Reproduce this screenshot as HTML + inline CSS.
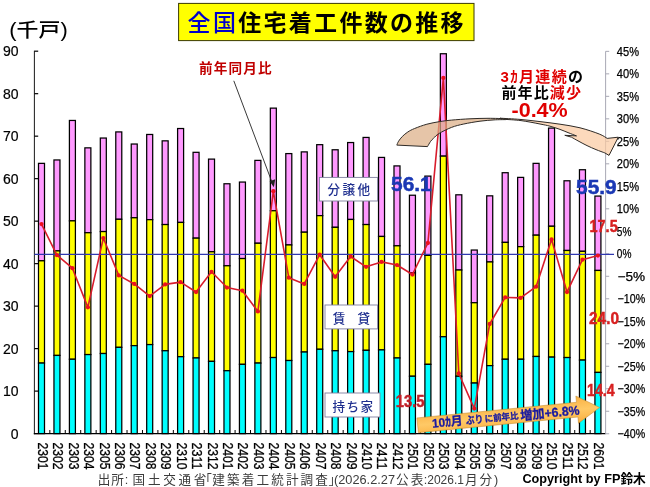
<!DOCTYPE html>
<html lang="ja"><head><meta charset="utf-8"><title>全国住宅着工件数の推移</title>
<style>html,body{margin:0;padding:0;background:#fff}svg{display:block}text{font-family:"Liberation Sans","Noto Sans CJK JP",sans-serif}</style></head><body>
<svg width="650" height="487" viewBox="0 0 650 487">
<defs><linearGradient id="og" x1="0" y1="0" x2="0" y2="1"><stop offset="0" stop-color="#f9b043"/><stop offset="0.5" stop-color="#ffc966"/><stop offset="1" stop-color="#f9ae3e"/></linearGradient></defs>
<rect width="650" height="487" fill="#fff"/>
<g stroke="#000" stroke-width="1.25" shape-rendering="auto">
<rect x="38.50" y="163.36" width="6.00" height="97.43" fill="#ff99ff"/>
<rect x="38.50" y="260.79" width="6.00" height="102.27" fill="#ffff00"/>
<rect x="38.50" y="363.07" width="6.00" height="70.53" fill="#00ffff"/>
<rect x="53.96" y="159.96" width="6.00" height="90.93" fill="#ff99ff"/>
<rect x="53.96" y="250.89" width="6.00" height="104.53" fill="#ffff00"/>
<rect x="53.96" y="355.42" width="6.00" height="78.18" fill="#00ffff"/>
<rect x="69.41" y="120.45" width="6.00" height="100.40" fill="#ff99ff"/>
<rect x="69.41" y="220.85" width="6.00" height="138.39" fill="#ffff00"/>
<rect x="69.41" y="359.24" width="6.00" height="74.36" fill="#00ffff"/>
<rect x="84.87" y="147.85" width="6.00" height="84.85" fill="#ff99ff"/>
<rect x="84.87" y="232.71" width="6.00" height="121.86" fill="#ffff00"/>
<rect x="84.87" y="354.57" width="6.00" height="79.03" fill="#00ffff"/>
<rect x="100.32" y="138.04" width="6.00" height="93.52" fill="#ff99ff"/>
<rect x="100.32" y="231.56" width="6.00" height="121.95" fill="#ffff00"/>
<rect x="100.32" y="353.51" width="6.00" height="80.09" fill="#00ffff"/>
<rect x="115.78" y="131.92" width="6.00" height="87.36" fill="#ff99ff"/>
<rect x="115.78" y="219.28" width="6.00" height="128.06" fill="#ffff00"/>
<rect x="115.78" y="347.35" width="6.00" height="86.25" fill="#00ffff"/>
<rect x="131.24" y="144.03" width="6.00" height="73.72" fill="#ff99ff"/>
<rect x="131.24" y="217.75" width="6.00" height="127.89" fill="#ffff00"/>
<rect x="131.24" y="345.65" width="6.00" height="87.95" fill="#00ffff"/>
<rect x="146.69" y="134.47" width="6.00" height="85.19" fill="#ff99ff"/>
<rect x="146.69" y="219.66" width="6.00" height="124.92" fill="#ffff00"/>
<rect x="146.69" y="344.58" width="6.00" height="89.02" fill="#00ffff"/>
<rect x="162.15" y="140.84" width="6.00" height="83.71" fill="#ff99ff"/>
<rect x="162.15" y="224.55" width="6.00" height="126.20" fill="#ffff00"/>
<rect x="162.15" y="350.74" width="6.00" height="82.86" fill="#00ffff"/>
<rect x="177.60" y="128.52" width="6.00" height="93.90" fill="#ff99ff"/>
<rect x="177.60" y="222.42" width="6.00" height="134.27" fill="#ffff00"/>
<rect x="177.60" y="356.69" width="6.00" height="76.91" fill="#00ffff"/>
<rect x="193.06" y="152.32" width="6.00" height="85.83" fill="#ff99ff"/>
<rect x="193.06" y="238.15" width="6.00" height="119.82" fill="#ffff00"/>
<rect x="193.06" y="357.97" width="6.00" height="75.63" fill="#00ffff"/>
<rect x="208.52" y="159.11" width="6.00" height="92.63" fill="#ff99ff"/>
<rect x="208.52" y="251.74" width="6.00" height="109.62" fill="#ffff00"/>
<rect x="208.52" y="361.37" width="6.00" height="72.23" fill="#00ffff"/>
<rect x="223.97" y="183.76" width="6.00" height="82.01" fill="#ff99ff"/>
<rect x="223.97" y="265.76" width="6.00" height="104.95" fill="#ffff00"/>
<rect x="223.97" y="370.71" width="6.00" height="62.89" fill="#00ffff"/>
<rect x="239.43" y="182.06" width="6.00" height="76.48" fill="#ff99ff"/>
<rect x="239.43" y="258.54" width="6.00" height="105.80" fill="#ffff00"/>
<rect x="239.43" y="364.34" width="6.00" height="69.26" fill="#00ffff"/>
<rect x="254.88" y="160.39" width="6.00" height="82.86" fill="#ff99ff"/>
<rect x="254.88" y="243.24" width="6.00" height="119.82" fill="#ffff00"/>
<rect x="254.88" y="363.07" width="6.00" height="70.53" fill="#00ffff"/>
<rect x="270.34" y="108.13" width="6.00" height="102.61" fill="#ff99ff"/>
<rect x="270.34" y="210.74" width="6.00" height="146.80" fill="#ffff00"/>
<rect x="270.34" y="357.54" width="6.00" height="76.06" fill="#00ffff"/>
<rect x="285.80" y="153.59" width="6.00" height="91.35" fill="#ff99ff"/>
<rect x="285.80" y="244.94" width="6.00" height="115.57" fill="#ffff00"/>
<rect x="285.80" y="360.52" width="6.00" height="73.08" fill="#00ffff"/>
<rect x="301.25" y="151.89" width="6.00" height="80.31" fill="#ff99ff"/>
<rect x="301.25" y="232.20" width="6.00" height="119.82" fill="#ffff00"/>
<rect x="301.25" y="352.02" width="6.00" height="81.58" fill="#00ffff"/>
<rect x="316.71" y="144.67" width="6.00" height="70.96" fill="#ff99ff"/>
<rect x="316.71" y="215.63" width="6.00" height="133.63" fill="#ffff00"/>
<rect x="316.71" y="349.26" width="6.00" height="84.34" fill="#00ffff"/>
<rect x="332.16" y="149.77" width="6.00" height="77.54" fill="#ff99ff"/>
<rect x="332.16" y="227.31" width="6.00" height="123.43" fill="#ffff00"/>
<rect x="332.16" y="350.74" width="6.00" height="82.86" fill="#00ffff"/>
<rect x="347.62" y="142.54" width="6.00" height="76.91" fill="#ff99ff"/>
<rect x="347.62" y="219.45" width="6.00" height="132.14" fill="#ffff00"/>
<rect x="347.62" y="351.59" width="6.00" height="82.01" fill="#00ffff"/>
<rect x="363.08" y="137.44" width="6.00" height="87.10" fill="#ff99ff"/>
<rect x="363.08" y="224.55" width="6.00" height="125.77" fill="#ffff00"/>
<rect x="363.08" y="350.32" width="6.00" height="83.28" fill="#00ffff"/>
<rect x="378.53" y="157.42" width="6.00" height="79.03" fill="#ff99ff"/>
<rect x="378.53" y="236.45" width="6.00" height="113.45" fill="#ffff00"/>
<rect x="378.53" y="349.89" width="6.00" height="83.71" fill="#00ffff"/>
<rect x="393.99" y="165.91" width="6.00" height="79.88" fill="#ff99ff"/>
<rect x="393.99" y="245.79" width="6.00" height="112.17" fill="#ffff00"/>
<rect x="393.99" y="357.97" width="6.00" height="75.63" fill="#00ffff"/>
<rect x="409.44" y="195.23" width="6.00" height="77.76" fill="#ff99ff"/>
<rect x="409.44" y="272.99" width="6.00" height="103.25" fill="#ffff00"/>
<rect x="409.44" y="376.24" width="6.00" height="57.36" fill="#00ffff"/>
<rect x="424.90" y="176.11" width="6.00" height="79.24" fill="#ff99ff"/>
<rect x="424.90" y="255.35" width="6.00" height="108.99" fill="#ffff00"/>
<rect x="424.90" y="364.34" width="6.00" height="69.26" fill="#00ffff"/>
<rect x="440.36" y="53.74" width="6.00" height="102.40" fill="#ff99ff"/>
<rect x="440.36" y="156.14" width="6.00" height="180.58" fill="#ffff00"/>
<rect x="440.36" y="336.72" width="6.00" height="96.88" fill="#00ffff"/>
<rect x="455.81" y="194.81" width="6.00" height="75.21" fill="#ff99ff"/>
<rect x="455.81" y="270.01" width="6.00" height="106.23" fill="#ffff00"/>
<rect x="455.81" y="376.24" width="6.00" height="57.36" fill="#00ffff"/>
<rect x="471.27" y="250.04" width="6.00" height="52.69" fill="#ff99ff"/>
<rect x="471.27" y="302.73" width="6.00" height="80.31" fill="#ffff00"/>
<rect x="471.27" y="383.04" width="6.00" height="50.56" fill="#00ffff"/>
<rect x="486.72" y="195.83" width="6.00" height="66.11" fill="#ff99ff"/>
<rect x="486.72" y="261.94" width="6.00" height="103.68" fill="#ffff00"/>
<rect x="486.72" y="365.62" width="6.00" height="67.98" fill="#00ffff"/>
<rect x="502.18" y="172.71" width="6.00" height="69.68" fill="#ff99ff"/>
<rect x="502.18" y="242.40" width="6.00" height="116.85" fill="#ffff00"/>
<rect x="502.18" y="359.24" width="6.00" height="74.36" fill="#00ffff"/>
<rect x="517.64" y="177.39" width="6.00" height="69.26" fill="#ff99ff"/>
<rect x="517.64" y="246.64" width="6.00" height="112.60" fill="#ffff00"/>
<rect x="517.64" y="359.24" width="6.00" height="74.36" fill="#00ffff"/>
<rect x="533.09" y="163.36" width="6.00" height="71.81" fill="#ff99ff"/>
<rect x="533.09" y="235.17" width="6.00" height="121.31" fill="#ffff00"/>
<rect x="533.09" y="356.48" width="6.00" height="77.12" fill="#00ffff"/>
<rect x="548.55" y="128.10" width="6.00" height="98.15" fill="#ff99ff"/>
<rect x="548.55" y="226.25" width="6.00" height="130.87" fill="#ffff00"/>
<rect x="548.55" y="357.12" width="6.00" height="76.48" fill="#00ffff"/>
<rect x="564.00" y="180.78" width="6.00" height="69.68" fill="#ff99ff"/>
<rect x="564.00" y="250.47" width="6.00" height="107.07" fill="#ffff00"/>
<rect x="564.00" y="357.54" width="6.00" height="76.06" fill="#00ffff"/>
<rect x="579.46" y="169.74" width="6.00" height="81.58" fill="#ff99ff"/>
<rect x="579.46" y="251.32" width="6.00" height="108.77" fill="#ffff00"/>
<rect x="579.46" y="360.09" width="6.00" height="73.51" fill="#00ffff"/>
<rect x="594.92" y="196.08" width="6.00" height="74.36" fill="#ff99ff"/>
<rect x="594.92" y="270.44" width="6.00" height="101.98" fill="#ffff00"/>
<rect x="594.92" y="372.41" width="6.00" height="61.19" fill="#00ffff"/>
</g>
<g stroke="#000" stroke-width="1.2" fill="none">
<line x1="34.40" y1="50.7" x2="34.40" y2="434.20" stroke-width="1.05" stroke="#222"/>
<line x1="33.80" y1="433.60" x2="605.61" y2="433.60"/>
<line x1="34.40" y1="433.60" x2="38.20" y2="433.60"/>
<line x1="34.40" y1="391.11" x2="38.20" y2="391.11"/>
<line x1="34.40" y1="348.62" x2="38.20" y2="348.62"/>
<line x1="34.40" y1="306.13" x2="38.20" y2="306.13"/>
<line x1="34.40" y1="263.64" x2="38.20" y2="263.64"/>
<line x1="34.40" y1="221.15" x2="38.20" y2="221.15"/>
<line x1="34.40" y1="178.66" x2="38.20" y2="178.66"/>
<line x1="34.40" y1="136.17" x2="38.20" y2="136.17"/>
<line x1="34.40" y1="93.68" x2="38.20" y2="93.68"/>
<line x1="34.40" y1="51.19" x2="38.20" y2="51.19"/>
<line x1="49.84" y1="433.60" x2="49.84" y2="430.00" stroke-width="1"/>
<line x1="65.28" y1="433.60" x2="65.28" y2="430.00" stroke-width="1"/>
<line x1="80.71" y1="433.60" x2="80.71" y2="430.00" stroke-width="1"/>
<line x1="96.15" y1="433.60" x2="96.15" y2="430.00" stroke-width="1"/>
<line x1="111.59" y1="433.60" x2="111.59" y2="430.00" stroke-width="1"/>
<line x1="127.03" y1="433.60" x2="127.03" y2="430.00" stroke-width="1"/>
<line x1="142.47" y1="433.60" x2="142.47" y2="430.00" stroke-width="1"/>
<line x1="157.90" y1="433.60" x2="157.90" y2="430.00" stroke-width="1"/>
<line x1="173.34" y1="433.60" x2="173.34" y2="430.00" stroke-width="1"/>
<line x1="188.78" y1="433.60" x2="188.78" y2="430.00" stroke-width="1"/>
<line x1="204.22" y1="433.60" x2="204.22" y2="430.00" stroke-width="1"/>
<line x1="219.66" y1="433.60" x2="219.66" y2="430.00" stroke-width="1"/>
<line x1="235.09" y1="433.60" x2="235.09" y2="430.00" stroke-width="1"/>
<line x1="250.53" y1="433.60" x2="250.53" y2="430.00" stroke-width="1"/>
<line x1="265.97" y1="433.60" x2="265.97" y2="430.00" stroke-width="1"/>
<line x1="281.41" y1="433.60" x2="281.41" y2="430.00" stroke-width="1"/>
<line x1="296.85" y1="433.60" x2="296.85" y2="430.00" stroke-width="1"/>
<line x1="312.28" y1="433.60" x2="312.28" y2="430.00" stroke-width="1"/>
<line x1="327.72" y1="433.60" x2="327.72" y2="430.00" stroke-width="1"/>
<line x1="343.16" y1="433.60" x2="343.16" y2="430.00" stroke-width="1"/>
<line x1="358.60" y1="433.60" x2="358.60" y2="430.00" stroke-width="1"/>
<line x1="374.04" y1="433.60" x2="374.04" y2="430.00" stroke-width="1"/>
<line x1="389.47" y1="433.60" x2="389.47" y2="430.00" stroke-width="1"/>
<line x1="404.91" y1="433.60" x2="404.91" y2="430.00" stroke-width="1"/>
<line x1="420.35" y1="433.60" x2="420.35" y2="430.00" stroke-width="1"/>
<line x1="435.79" y1="433.60" x2="435.79" y2="430.00" stroke-width="1"/>
<line x1="451.23" y1="433.60" x2="451.23" y2="430.00" stroke-width="1"/>
<line x1="466.66" y1="433.60" x2="466.66" y2="430.00" stroke-width="1"/>
<line x1="482.10" y1="433.60" x2="482.10" y2="430.00" stroke-width="1"/>
<line x1="497.54" y1="433.60" x2="497.54" y2="430.00" stroke-width="1"/>
<line x1="512.98" y1="433.60" x2="512.98" y2="430.00" stroke-width="1"/>
<line x1="528.42" y1="433.60" x2="528.42" y2="430.00" stroke-width="1"/>
<line x1="543.85" y1="433.60" x2="543.85" y2="430.00" stroke-width="1"/>
<line x1="559.29" y1="433.60" x2="559.29" y2="430.00" stroke-width="1"/>
<line x1="574.73" y1="433.60" x2="574.73" y2="430.00" stroke-width="1"/>
<line x1="590.17" y1="433.60" x2="590.17" y2="430.00" stroke-width="1"/>
</g>
<g stroke="#a8a8b4" stroke-width="1" fill="none">
<line x1="605.61" y1="51.35" x2="605.61" y2="433.75"/>
<line x1="605.61" y1="51.35" x2="609.21" y2="51.35"/>
<line x1="605.61" y1="73.85" x2="609.21" y2="73.85"/>
<line x1="605.61" y1="96.34" x2="609.21" y2="96.34"/>
<line x1="605.61" y1="118.84" x2="609.21" y2="118.84"/>
<line x1="605.61" y1="141.33" x2="609.21" y2="141.33"/>
<line x1="605.61" y1="163.82" x2="609.21" y2="163.82"/>
<line x1="605.61" y1="186.32" x2="609.21" y2="186.32"/>
<line x1="605.61" y1="208.81" x2="609.21" y2="208.81"/>
<line x1="605.61" y1="231.31" x2="609.21" y2="231.31"/>
<line x1="605.61" y1="253.80" x2="609.21" y2="253.80"/>
<line x1="605.61" y1="276.29" x2="609.21" y2="276.29"/>
<line x1="605.61" y1="298.79" x2="609.21" y2="298.79"/>
<line x1="605.61" y1="321.28" x2="609.21" y2="321.28"/>
<line x1="605.61" y1="343.78" x2="609.21" y2="343.78"/>
<line x1="605.61" y1="366.27" x2="609.21" y2="366.27"/>
<line x1="605.61" y1="388.76" x2="609.21" y2="388.76"/>
<line x1="605.61" y1="411.26" x2="609.21" y2="411.26"/>
<line x1="605.61" y1="433.75" x2="609.21" y2="433.75"/>
</g>
<g font-size="14" fill="#000" text-anchor="end" stroke="#000" stroke-width="0.2">
<text x="18.6" y="438.60">0</text>
<text x="18.6" y="396.11">10</text>
<text x="18.6" y="353.62">20</text>
<text x="18.6" y="311.13">30</text>
<text x="18.6" y="268.64">40</text>
<text x="18.6" y="226.15">50</text>
<text x="18.6" y="183.66">60</text>
<text x="18.6" y="141.17">70</text>
<text x="18.6" y="98.68">80</text>
<text x="18.6" y="56.19">90</text>
</g>
<g font-size="12.3" fill="#000" stroke="#000" stroke-width="0.25">
<text x="616.8" y="55.65" textLength="22.2" lengthAdjust="spacingAndGlyphs">45%</text>
<text x="616.8" y="78.15" textLength="22.2" lengthAdjust="spacingAndGlyphs">40%</text>
<text x="616.8" y="100.64" textLength="22.2" lengthAdjust="spacingAndGlyphs">35%</text>
<text x="616.8" y="123.14" textLength="22.2" lengthAdjust="spacingAndGlyphs">30%</text>
<text x="616.8" y="145.63" textLength="22.2" lengthAdjust="spacingAndGlyphs">25%</text>
<text x="616.8" y="168.12" textLength="22.2" lengthAdjust="spacingAndGlyphs">20%</text>
<text x="616.8" y="190.62" textLength="22.2" lengthAdjust="spacingAndGlyphs">15%</text>
<text x="616.8" y="213.11" textLength="22.2" lengthAdjust="spacingAndGlyphs">10%</text>
<text x="616.8" y="235.61" textLength="14.6" lengthAdjust="spacingAndGlyphs">5%</text>
<text x="616.8" y="258.10" textLength="14.6" lengthAdjust="spacingAndGlyphs">0%</text>
<text x="617.6" y="280.59" textLength="27.6" lengthAdjust="spacingAndGlyphs">−5%</text>
<text x="617.6" y="303.09" textLength="27.6" lengthAdjust="spacingAndGlyphs">−10%</text>
<text x="617.6" y="325.58" textLength="27.6" lengthAdjust="spacingAndGlyphs">−15%</text>
<text x="617.6" y="348.08" textLength="27.6" lengthAdjust="spacingAndGlyphs">−20%</text>
<text x="617.6" y="370.57" textLength="27.6" lengthAdjust="spacingAndGlyphs">−25%</text>
<text x="617.6" y="393.06" textLength="27.6" lengthAdjust="spacingAndGlyphs">−30%</text>
<text x="617.6" y="415.56" textLength="27.6" lengthAdjust="spacingAndGlyphs">−35%</text>
<text x="617.6" y="438.05" textLength="27.6" lengthAdjust="spacingAndGlyphs">−40%</text>
</g>
<g font-size="14.6" fill="#000" stroke="#000" stroke-width="0.3">
<text transform="translate(43.02,442.6) rotate(90)" x="0" y="5.25" textLength="27" lengthAdjust="spacingAndGlyphs">2301</text>
<text transform="translate(58.46,442.6) rotate(90)" x="0" y="5.25" textLength="27" lengthAdjust="spacingAndGlyphs">2302</text>
<text transform="translate(73.90,442.6) rotate(90)" x="0" y="5.25" textLength="27" lengthAdjust="spacingAndGlyphs">2303</text>
<text transform="translate(89.33,442.6) rotate(90)" x="0" y="5.25" textLength="27" lengthAdjust="spacingAndGlyphs">2304</text>
<text transform="translate(104.77,442.6) rotate(90)" x="0" y="5.25" textLength="27" lengthAdjust="spacingAndGlyphs">2305</text>
<text transform="translate(120.21,442.6) rotate(90)" x="0" y="5.25" textLength="27" lengthAdjust="spacingAndGlyphs">2306</text>
<text transform="translate(135.65,442.6) rotate(90)" x="0" y="5.25" textLength="27" lengthAdjust="spacingAndGlyphs">2307</text>
<text transform="translate(151.09,442.6) rotate(90)" x="0" y="5.25" textLength="27" lengthAdjust="spacingAndGlyphs">2308</text>
<text transform="translate(166.52,442.6) rotate(90)" x="0" y="5.25" textLength="27" lengthAdjust="spacingAndGlyphs">2309</text>
<text transform="translate(181.96,442.6) rotate(90)" x="0" y="5.25" textLength="27" lengthAdjust="spacingAndGlyphs">2310</text>
<text transform="translate(197.40,442.6) rotate(90)" x="0" y="5.25" textLength="27" lengthAdjust="spacingAndGlyphs">2311</text>
<text transform="translate(212.84,442.6) rotate(90)" x="0" y="5.25" textLength="27" lengthAdjust="spacingAndGlyphs">2312</text>
<text transform="translate(228.28,442.6) rotate(90)" x="0" y="5.25" textLength="27" lengthAdjust="spacingAndGlyphs">2401</text>
<text transform="translate(243.71,442.6) rotate(90)" x="0" y="5.25" textLength="27" lengthAdjust="spacingAndGlyphs">2402</text>
<text transform="translate(259.15,442.6) rotate(90)" x="0" y="5.25" textLength="27" lengthAdjust="spacingAndGlyphs">2403</text>
<text transform="translate(274.59,442.6) rotate(90)" x="0" y="5.25" textLength="27" lengthAdjust="spacingAndGlyphs">2404</text>
<text transform="translate(290.03,442.6) rotate(90)" x="0" y="5.25" textLength="27" lengthAdjust="spacingAndGlyphs">2405</text>
<text transform="translate(305.46,442.6) rotate(90)" x="0" y="5.25" textLength="27" lengthAdjust="spacingAndGlyphs">2406</text>
<text transform="translate(320.90,442.6) rotate(90)" x="0" y="5.25" textLength="27" lengthAdjust="spacingAndGlyphs">2407</text>
<text transform="translate(336.34,442.6) rotate(90)" x="0" y="5.25" textLength="27" lengthAdjust="spacingAndGlyphs">2408</text>
<text transform="translate(351.78,442.6) rotate(90)" x="0" y="5.25" textLength="27" lengthAdjust="spacingAndGlyphs">2409</text>
<text transform="translate(367.22,442.6) rotate(90)" x="0" y="5.25" textLength="27" lengthAdjust="spacingAndGlyphs">2410</text>
<text transform="translate(382.65,442.6) rotate(90)" x="0" y="5.25" textLength="27" lengthAdjust="spacingAndGlyphs">2411</text>
<text transform="translate(398.09,442.6) rotate(90)" x="0" y="5.25" textLength="27" lengthAdjust="spacingAndGlyphs">2412</text>
<text transform="translate(413.53,442.6) rotate(90)" x="0" y="5.25" textLength="27" lengthAdjust="spacingAndGlyphs">2501</text>
<text transform="translate(428.97,442.6) rotate(90)" x="0" y="5.25" textLength="27" lengthAdjust="spacingAndGlyphs">2502</text>
<text transform="translate(444.41,442.6) rotate(90)" x="0" y="5.25" textLength="27" lengthAdjust="spacingAndGlyphs">2503</text>
<text transform="translate(459.84,442.6) rotate(90)" x="0" y="5.25" textLength="27" lengthAdjust="spacingAndGlyphs">2504</text>
<text transform="translate(475.28,442.6) rotate(90)" x="0" y="5.25" textLength="27" lengthAdjust="spacingAndGlyphs">2505</text>
<text transform="translate(490.72,442.6) rotate(90)" x="0" y="5.25" textLength="27" lengthAdjust="spacingAndGlyphs">2506</text>
<text transform="translate(506.16,442.6) rotate(90)" x="0" y="5.25" textLength="27" lengthAdjust="spacingAndGlyphs">2507</text>
<text transform="translate(521.60,442.6) rotate(90)" x="0" y="5.25" textLength="27" lengthAdjust="spacingAndGlyphs">2508</text>
<text transform="translate(537.03,442.6) rotate(90)" x="0" y="5.25" textLength="27" lengthAdjust="spacingAndGlyphs">2509</text>
<text transform="translate(552.47,442.6) rotate(90)" x="0" y="5.25" textLength="27" lengthAdjust="spacingAndGlyphs">2510</text>
<text transform="translate(567.91,442.6) rotate(90)" x="0" y="5.25" textLength="27" lengthAdjust="spacingAndGlyphs">2511</text>
<text transform="translate(583.35,442.6) rotate(90)" x="0" y="5.25" textLength="27" lengthAdjust="spacingAndGlyphs">2512</text>
<text transform="translate(598.79,442.6) rotate(90)" x="0" y="5.25" textLength="27" lengthAdjust="spacingAndGlyphs">2601</text>
</g>
<line x1="34.40" y1="254.4" x2="614" y2="254.4" stroke="#3038b0" stroke-width="1.35"/>
<polyline points="41.50,224.11 56.96,255.15 72.41,268.20 87.87,307.34 103.32,238.05 118.78,275.39 134.24,283.94 149.69,296.09 165.15,284.39 180.60,282.14 196.06,292.04 211.52,271.80 226.97,287.54 242.43,290.69 257.88,311.38 273.34,191.27 288.80,277.64 304.25,283.94 319.71,254.70 335.16,276.74 350.62,256.50 366.08,266.85 381.53,261.90 396.99,265.05 412.44,274.49 427.90,243.00 443.36,77.90 458.81,373.47 474.27,408.56 489.72,323.98 505.18,297.44 520.64,297.89 536.09,286.64 551.55,239.40 567.00,292.04 582.46,259.65 597.92,255.60" fill="none" stroke="#d81c2c" stroke-width="1.6" stroke-linejoin="round"/>
<g fill="#ee1020">
<circle cx="41.50" cy="224.11" r="2.15"/>
<circle cx="56.96" cy="255.15" r="2.15"/>
<circle cx="72.41" cy="268.20" r="2.15"/>
<circle cx="87.87" cy="307.34" r="2.15"/>
<circle cx="103.32" cy="238.05" r="2.15"/>
<circle cx="118.78" cy="275.39" r="2.15"/>
<circle cx="134.24" cy="283.94" r="2.15"/>
<circle cx="149.69" cy="296.09" r="2.15"/>
<circle cx="165.15" cy="284.39" r="2.15"/>
<circle cx="180.60" cy="282.14" r="2.15"/>
<circle cx="196.06" cy="292.04" r="2.15"/>
<circle cx="211.52" cy="271.80" r="2.15"/>
<circle cx="226.97" cy="287.54" r="2.15"/>
<circle cx="242.43" cy="290.69" r="2.15"/>
<circle cx="257.88" cy="311.38" r="2.15"/>
<circle cx="273.34" cy="191.27" r="2.15"/>
<circle cx="288.80" cy="277.64" r="2.15"/>
<circle cx="304.25" cy="283.94" r="2.15"/>
<circle cx="319.71" cy="254.70" r="2.15"/>
<circle cx="335.16" cy="276.74" r="2.15"/>
<circle cx="350.62" cy="256.50" r="2.15"/>
<circle cx="366.08" cy="266.85" r="2.15"/>
<circle cx="381.53" cy="261.90" r="2.15"/>
<circle cx="396.99" cy="265.05" r="2.15"/>
<circle cx="412.44" cy="274.49" r="2.15"/>
<circle cx="427.90" cy="243.00" r="2.15"/>
<circle cx="443.36" cy="77.90" r="2.15"/>
<circle cx="458.81" cy="373.47" r="2.15"/>
<circle cx="474.27" cy="408.56" r="2.15"/>
<circle cx="489.72" cy="323.98" r="2.15"/>
<circle cx="505.18" cy="297.44" r="2.15"/>
<circle cx="520.64" cy="297.89" r="2.15"/>
<circle cx="536.09" cy="286.64" r="2.15"/>
<circle cx="551.55" cy="239.40" r="2.15"/>
<circle cx="567.00" cy="292.04" r="2.15"/>
<circle cx="582.46" cy="259.65" r="2.15"/>
<circle cx="597.92" cy="255.60" r="2.15"/>
</g>
<rect x="178.6" y="3.4" width="295.4" height="37.2" fill="#ffff00" stroke="#3a3a00" stroke-width="1"/>
<text x="187.6" y="30.6" font-size="23" font-weight="700" textLength="276" lengthAdjust="spacing"><tspan fill="#0000cc" font-weight="500">全国</tspan><tspan fill="#000">住宅着工件数の推移</tspan></text>
<text x="9.3" y="37.1" font-size="19.5" font-weight="500" fill="#000" textLength="58.4" lengthAdjust="spacingAndGlyphs">(千戸)</text>
<text x="199" y="73" font-size="13.6" font-weight="700" fill="#c00000" textLength="72.6" lengthAdjust="spacing">前年同月比</text>
<line x1="233.8" y1="80.8" x2="273.2" y2="185.4" stroke="#222" stroke-width="0.9"/>
<polygon points="273.9,187.2 269.6,181.2 275.2,179.2" fill="#222"/>
<g stroke="#2e2a26" stroke-width="1" stroke-linejoin="miter" fill-opacity="0.72">
<path d="M396.80,145.10 C397.10,144.45 397.68,142.63 398.60,141.20 C399.52,139.77 400.77,138.03 402.30,136.50 C403.83,134.97 405.75,133.33 407.80,132.00 C409.85,130.67 411.42,129.80 414.60,128.50 C417.78,127.20 422.80,125.33 426.90,124.20 C431.00,123.07 435.10,122.38 439.20,121.70 C443.30,121.02 446.37,120.58 451.50,120.10 C456.63,119.62 463.92,119.10 470.00,118.80 C476.08,118.50 482.00,118.32 488.00,118.30 C494.00,118.28 503.00,118.63 506.00,118.70 L506.00,119.60 C504.00,119.65 498.33,119.63 494.00,119.90 C489.67,120.17 485.03,120.52 480.00,121.20 C474.97,121.88 468.55,122.97 463.80,124.00 C459.05,125.03 455.60,125.83 451.50,127.40 C447.40,128.97 442.18,131.60 439.20,133.40 C436.22,135.20 435.03,136.87 433.60,138.20 C432.17,139.53 431.62,140.00 430.60,141.40 C429.58,142.80 428.02,145.73 427.50,146.60 Z" fill="#dcae86"/>
<path d="M500.00,118.20 C503.33,118.40 513.33,118.83 520.00,119.40 C526.67,119.97 533.33,120.80 540.00,121.60 C546.67,122.40 553.33,123.17 560.00,124.20 C566.67,125.23 573.47,126.17 580.00,127.80 C586.53,129.43 594.67,132.23 599.20,134.00 C603.73,135.77 605.87,137.67 607.20,138.40 L618.3,137.2 L609,155.4 L604.8,152.9 C603.33,152.35 598.97,150.82 596.00,149.60 C593.03,148.38 589.83,146.97 587.00,145.60 C584.17,144.23 581.58,142.80 579.00,141.40 C576.42,140.00 572.75,137.90 571.50,137.20 L564.8,135.3 L576.5,135.9 C575.08,135.35 570.75,133.68 568.00,132.60 C565.25,131.52 563.00,130.47 560.00,129.40 C557.00,128.33 553.33,127.10 550.00,126.20 C546.67,125.30 544.83,124.93 540.00,124.00 C535.17,123.07 527.00,121.38 521.00,120.60 C515.00,119.82 506.83,119.52 504.00,119.30 Z" fill="#fbcba2"/>
</g>
<text x="500.5" y="81.6" font-size="15" font-weight="700" textLength="82.5" lengthAdjust="spacing"><tspan fill="#e00000">3ｶ月連続</tspan><tspan fill="#000">の</tspan></text>
<text x="501.5" y="98.0" font-size="15" font-weight="700" textLength="79.5" lengthAdjust="spacing"><tspan fill="#000">前年比</tspan><tspan fill="#e00000">減少</tspan></text>
<text x="511.5" y="116.5" font-size="20" font-weight="700" fill="#e00000" textLength="56.2" lengthAdjust="spacingAndGlyphs">-0.4%</text>
<rect x="319.4" y="177.4" width="58.2" height="23.6" fill="#fff" stroke="#7f7f9f" stroke-width="0.9"/>
<text x="327.5" y="194.3" font-size="12.6" font-weight="500" fill="#1f2f8f" textLength="42.7" lengthAdjust="spacing">分譲他</text>
<rect x="325.0" y="305.0" width="52.6" height="23.9" fill="#fff" stroke="#7f7f9f" stroke-width="0.9"/>
<text x="332.8" y="322.7" font-size="12.6" font-weight="500" fill="#1f2f8f" textLength="37.4" lengthAdjust="spacing">賃 貸</text>
<rect x="325.0" y="393.0" width="55.0" height="24.0" fill="#fff" stroke="#7f7f9f" stroke-width="0.9"/>
<text x="332.6" y="410.7" font-size="12.6" font-weight="500" fill="#1f2f8f" textLength="40.4" lengthAdjust="spacing">持ち家</text>
<g font-weight="700">
<text x="391" y="190.6" font-size="20.4" fill="#1a38b4" stroke="#1a38b4" stroke-width="0.5" textLength="40.7" lengthAdjust="spacingAndGlyphs">56.1</text>
<text x="576" y="194" font-size="20.4" fill="#1a38b4" stroke="#1a38b4" stroke-width="0.5" textLength="40.7" lengthAdjust="spacingAndGlyphs">55.9</text>
<text x="589.5" y="231.5" font-size="17" fill="#d82020" stroke="#d82020" stroke-width="0.45" textLength="28.2" lengthAdjust="spacingAndGlyphs">17.5</text>
<text x="589" y="324.2" font-size="17" fill="#d82020" stroke="#d82020" stroke-width="0.45" textLength="30" lengthAdjust="spacingAndGlyphs">24.0</text>
<text x="587" y="396" font-size="17" fill="#d82020" stroke="#d82020" stroke-width="0.45" textLength="27.6" lengthAdjust="spacingAndGlyphs">14.4</text>
<text x="395.8" y="406.6" font-size="17" fill="#c02028" stroke="#c02028" stroke-width="0.5" textLength="28.8" lengthAdjust="spacingAndGlyphs">13.5</text>
</g>
<g transform="translate(417.65,425.3) rotate(-5.6)">
<polygon points="0,-7.4 160.3,-7.4 160.3,-13.7 182.8,0 160.3,13.7 160.3,7.4 0,7.4" fill="url(#og)" stroke="#c08a30" stroke-width="0.5"/>
<g font-weight="700" fill="#1a1aa0" stroke="#1a1aa0" stroke-width="0.3">
<text x="14.6" y="3.8" font-size="12.2" textLength="30.6" lengthAdjust="spacingAndGlyphs">10ｶ月</text>
<text x="48.6" y="3.7" font-size="10.6" textLength="17.2" lengthAdjust="spacingAndGlyphs">ぶり</text>
<text x="67.3" y="3.3" font-size="8.8" textLength="34" lengthAdjust="spacingAndGlyphs">に前年比</text>
<text x="103" y="4.9" font-size="12.8" textLength="59.5" lengthAdjust="spacingAndGlyphs">増加+6.8%</text>
</g>
</g>
<g font-size="12.6" fill="#3c3c3c">
<text x="97.8" y="484" textLength="30.4" lengthAdjust="spacing">出所:</text>
<text x="132.6" y="484" textLength="73.8" lengthAdjust="spacing">国土交通省</text>
<text x="199.2" y="484">「</text>
<text x="212.3" y="484" textLength="115.6" lengthAdjust="spacing">建築着工統計調査</text>
<text x="328.6" y="484">」</text>
<text x="334" y="484" textLength="61" lengthAdjust="spacingAndGlyphs">(2026.2.27</text>
<text x="396" y="484" textLength="27.4" lengthAdjust="spacing">公表</text>
<text x="423.8" y="484">:</text>
<text x="427.3" y="484" textLength="36.6" lengthAdjust="spacingAndGlyphs">2026.1</text>
<text x="465.1" y="484" textLength="33" lengthAdjust="spacing">月分)</text>
</g>
<text x="522.4" y="482.8" font-size="13" font-weight="700" fill="#000" textLength="123.4" lengthAdjust="spacingAndGlyphs">Copyright by FP鈴木</text>
</svg></body></html>
